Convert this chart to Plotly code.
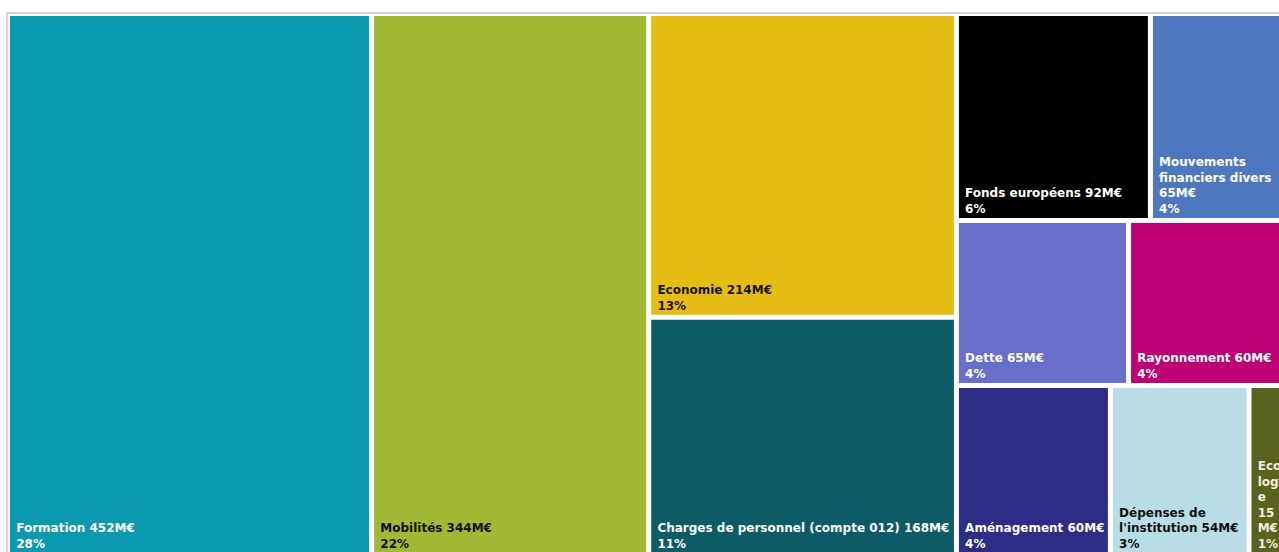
import plotly.graph_objects as go

# Budget lines (M€)
labels = [
    "Formation",
    "Mobilités",
    "Economie",
    "Charges de personnel (compte 012)",
    "Fonds européens",
    "Mouvements financiers divers",
    "Dette",
    "Rayonnement",
    "Aménagement",
    "Dépenses de l'institution",
    "Ecologie",
]
values = [452, 344, 214, 168, 92, 65, 65, 60, 60, 54, 15]

colors = [
    "#0b99b0", "#a2b936", "#e6bd14", "#0c5b66", "#000000", "#4e77bd",
    "#6a6ecb", "#bd0073", "#2d2d85", "#b9dde6", "#5a6220",
]
text_colors = [
    "#ffffff", "#111111", "#1a1205", "#ffffff", "#ffffff", "#ffffff",
    "#ffffff", "#ffffff", "#ffffff", "#111111", "#f2f0d8",
]

# Line-wrapped captions for the narrow tiles
wrapped = {
    "Mouvements financiers divers": "Mouvements<br>financiers divers<br>{v}M€",
    "Dépenses de l'institution": "Dépenses de<br>l'institution {v}M€",
    "Ecologie": "Eco<br>logi<br>e<br>{v}<br>M€",
}

total = sum(values)
indent = "\u00a0"
captions = []
for name, v in zip(labels, values):
    head = wrapped.get(name, name + " {v}M€").format(v=v)
    lines = head.split("<br>") + [f"{round(v / total * 100)}%"]
    captions.append("<br>".join(indent + ln for ln in lines))

fig = go.Figure(
    go.Treemap(
        labels=labels,
        parents=[""] * len(labels),
        values=values,
        text=captions,
        textinfo="text",
        textposition="bottom left",
        marker=dict(colors=colors, line=dict(color="#ffffff", width=2),
                    pad=dict(t=0, l=0, r=0, b=0)),
        textfont=dict(family="DejaVu Sans", size=12, color=text_colors, weight="bold"),
        pathbar=dict(visible=False),
        sort=True,
        hovertemplate="%{label}: %{value}M€<extra></extra>",
    )
)

# thin frame around the plotting area
fig.add_shape(type="rect", xref="paper", yref="paper",
              x0=-0.0016, x1=1.02, y0=-0.05, y1=1.0037,
              line=dict(color="#c8c8c8", width=1.5), fillcolor="rgba(0,0,0,0)",
              layer="below")

fig.update_layout(
    width=1300,
    height=575,
    margin=dict(l=9, r=14, t=15, b=21),
    paper_bgcolor="#ffffff",
    uniformtext=dict(minsize=12, mode="show"),
    showlegend=False,
)

fig.write_html("out.html")
